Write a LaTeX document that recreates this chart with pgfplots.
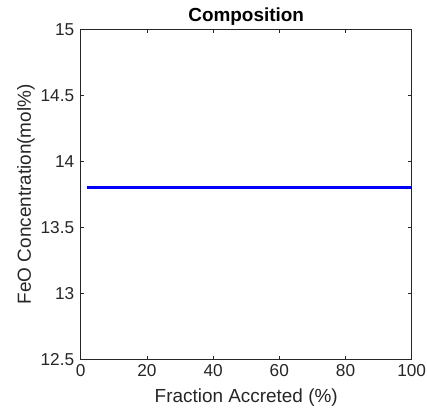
\documentclass[border=0pt]{standalone}
\usepackage{pgfplots}
\pgfplotsset{compat=1.18}
\usepackage{fontspec}
\setmainfont{Liberation Sans}
\definecolor{axgray}{gray}{0.15}
\begin{document}
\begin{tikzpicture}[x=1bp,y=1bp]
\useasboundingbox (0,0) rectangle (427,415);
\begin{axis}[
  at={(80.7bp,55.7bp)}, anchor=south west,
  scale only axis, width=331bp, height=330bp,
  xmin=0, xmax=100, ymin=12.5, ymax=15,
  xtick={0,20,40,60,80,100},
  ytick={12.5,13,13.5,14,14.5,15},
  yticklabels={12.5,13,13.5,14,14.5,15},
  tick align=inside,
  major tick length=3.3bp,
  axis line style={axgray, line width=0.6bp},
  every tick/.style={axgray, line width=0.6bp},
  tick label style={font=\fontsize{17.3}{20}\selectfont, text=axgray},
  /pgf/number format/assume math mode=true,
  xlabel={Fraction Accreted (\%)},
  ylabel={FeO Concentration(mol\%)},
  label style={font=\fontsize{19}{22}\selectfont, text=axgray},
  title={Composition},
  title style={font=\bfseries\fontsize{19}{22}\selectfont, yshift=-6bp},
  xticklabel style={yshift=-2bp},
  yticklabel style={xshift=-3bp},
  xlabel style={yshift=-5bp},
  ylabel style={yshift=-1bp},
]
\addplot[blue, line width=3.6bp] coordinates {(2,13.8) (100,13.8)};
\end{axis}
\end{tikzpicture}
\end{document}
